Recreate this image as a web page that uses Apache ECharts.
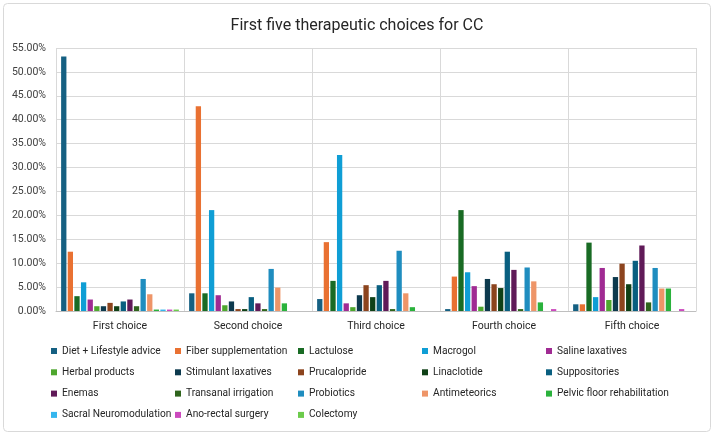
<!DOCTYPE html>
<html><head><meta charset="utf-8">
<script src="https://cdn.jsdelivr.net/npm/echarts@6/dist/echarts.min.js"></script>
<style>html,body{margin:0;padding:0;background:#fff}#c{width:714px;height:435px}</style>
</head><body><div id="c"></div>
<script>
const categories = ['First choice','Second choice','Third choice','Fourth choice','Fifth choice'];
const seriesNames = ['Diet + Lifestyle advice','Fiber supplementation','Lactulose','Macrogol','Saline laxatives','Herbal products','Stimulant laxatives','Prucalopride','Linaclotide','Suppositories','Enemas','Transanal irrigation','Probiotics','Antimeteorics','Pelvic floor rehabilitation','Sacral Neuromodulation','Ano-rectal surgery','Colectomy'];
const colors = ['#156082','#E97132','#196B24','#0F9ED5','#A02B93','#4EA72E','#0D3A4E','#8C441E','#0F4016','#095F80','#601A58','#2F641C','#1F8DBF','#EE9568','#2AB23C','#35B6EE','#CC4ABE','#6CCB4B'];
const dietLifestyle = [53.2, 3.7, 2.5, 0.4, 1.4];
const fiber = [12.4, 42.8, 14.4, 7.2, 1.4];
const lactulose = [3.1, 3.7, 6.3, 21.1, 14.3];
const macrogol = [6.0, 21.1, 32.6, 8.1, 2.9];
const saline = [2.4, 3.3, 1.6, 5.2, 9.0];
const herbal = [1.0, 1.2, 0.8, 0.9, 2.3];
const stimulant = [1.0, 2.0, 3.3, 6.7, 7.1];
const prucalopride = [1.7, 0.4, 5.4, 5.6, 9.9];
const linaclotide = [1.0, 0.4, 2.9, 4.8, 5.6];
const suppositories = [2.0, 2.9, 5.4, 12.4, 10.5];
const enemas = [2.4, 1.6, 6.3, 8.6, 13.7];
const transanal = [1.0, 0.4, 0.4, 0.4, 1.8];
const probiotics = [6.7, 8.8, 12.6, 9.1, 9.0];
const antimeteorics = [3.5, 4.9, 3.7, 6.2, 4.7];
const pelvicFloor = [0.3, 1.6, 0.8, 1.8, 4.7];
const sacral = [0.3, 0, 0, 0, 0];
const anoRectal = [0.3, 0, 0, 0.4, 0.4];
const colectomy = [0.3, 0, 0, 0, 0];
const yTicks = {min: 0, max: 55, interval: 5};

const values = [dietLifestyle, fiber, lactulose, macrogol, saline, herbal, stimulant, prucalopride, linaclotide, suppositories, enemas, transanal, probiotics, antimeteorics, pelvicFloor, sacral, anoRectal, colectomy];

const font = 'Roboto, "Liberation Sans", sans-serif';
// size legend font so the longest label spans about 112px, as in the reference
const cv = document.createElement('canvas').getContext('2d');
cv.font = '100px Roboto';
const wRef = cv.measureText('Pelvic floor rehabilitation').width;
const legendFont = Math.min(13, Math.max(9, 112 / wRef * 100));

const chart = echarts.init(document.getElementById('c'));
const legendCols = [[0,5,10,15],[1,6,11,16],[2,7,12,17],[3,8,13],[4,9,14]];
const legendLeft = [51, 175, 298, 422, 546];
const legends = legendCols.map((col, i) => ({
  orient: 'vertical', left: legendLeft[i], top: 345, padding: 0,
  itemWidth: 6, itemHeight: 6, itemGap: 9.3,
  icon: 'rect',
  data: col.map(k => seriesNames[k]),
  textStyle: {fontSize: legendFont, lineHeight: 12, color: '#262626', fontFamily: font},
  selectedMode: false
}));

chart.setOption({
  color: colors,
  animation: false,
  title: {text: 'First five therapeutic choices for CC', left: 'center', top: 13,
    textStyle: {fontSize: 16, fontWeight: 'normal', color: '#262626', fontFamily: font}},
  legend: legends,
  graphic: [{type: 'rect', shape: {x: 3.5, y: 3.5, width: 707, height: 428, r: 4},
    style: {fill: 'none', stroke: '#D9D9D9', lineWidth: 1}, silent: true, z: -10}],
  grid: {left: 56, right: 18, top: 48, bottom: 124, containLabel: false},
  xAxis: {type: 'category', data: categories,
    axisLine: {lineStyle: {color: '#BFBFBF'}}, axisTick: {show: false},
    axisLabel: {color: '#262626', fontSize: 10.5, fontFamily: font, margin: 10},
    splitLine: {show: true, lineStyle: {color: '#D9D9D9'}}},
  yAxis: {type: 'value', min: yTicks.min, max: yTicks.max, interval: yTicks.interval,
    axisLabel: {formatter: v => v.toFixed(2) + '%', color: '#404040', fontSize: 10.5, fontFamily: font, margin: 10},
    splitLine: {lineStyle: {color: '#D9D9D9'}}, axisLine: {show: false}, axisTick: {show: false}},
  series: seriesNames.map((n, i) => ({
    name: n, type: 'bar', data: values[i], barGap: '25%', barCategoryGap: '8%'
  }))
});
</script>
</body></html>
